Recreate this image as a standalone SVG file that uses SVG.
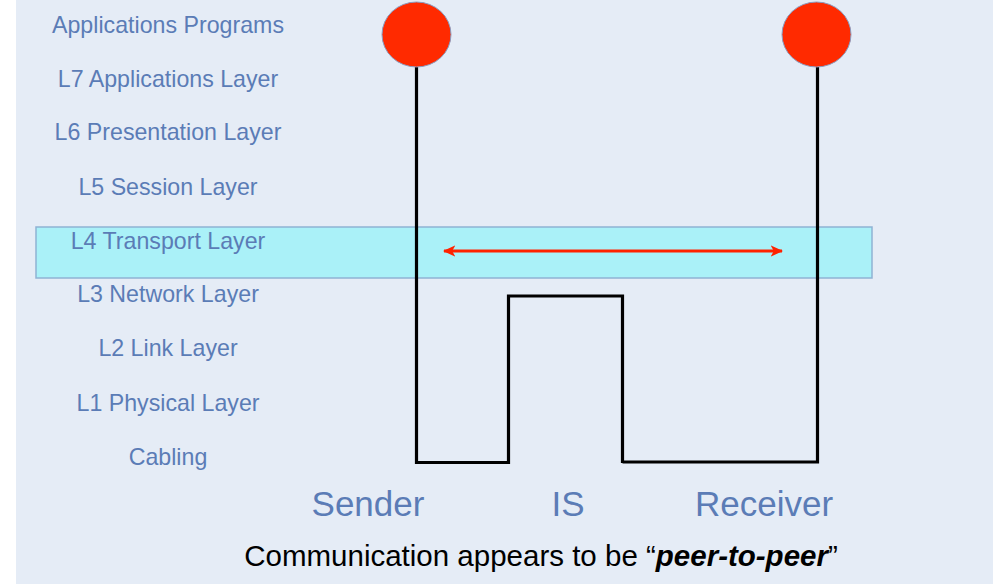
<svg xmlns="http://www.w3.org/2000/svg" width="995" height="584" viewBox="0 0 995 584">
<defs>
<style>
.lbl{font-family:"Liberation Sans",Arial,sans-serif;font-size:23.2px;fill:#5b7cb6;text-anchor:middle}
.big{font-family:"Liberation Sans",Arial,sans-serif;font-size:35px;fill:#5b7cb6;text-anchor:middle}
.cap{font-family:"Liberation Sans",Arial,sans-serif;font-size:29.5px;fill:#000;text-anchor:middle}
.wire{fill:none;stroke:#000;stroke-width:3.2;stroke-linejoin:miter}
.dot{fill:#ff2a00;stroke:#8a9cc0;stroke-width:1}
</style>
<marker id="ah" viewBox="0 0 10 10" refX="9" refY="5" markerWidth="4.5" markerHeight="4.5" orient="auto-start-reverse" markerUnits="strokeWidth">
<path d="M0,0.5 L10,5 L0,9.5 L2.5,5 Z" fill="#ff2200"/>
</marker>
</defs>
<rect x="0" y="0" width="995" height="584" fill="#ffffff"/>
<rect x="16" y="0" width="977" height="584" fill="#e5ecf6"/>

<g id="band-l4">
<rect x="36" y="227" width="836" height="51" fill="#aaf1f8" stroke="#8fb2d4" stroke-width="1.5"/>
</g>

<g id="layers">
<text class="lbl" x="168" y="33">Applications Programs</text>
<text class="lbl" x="168" y="87">L7 Applications Layer</text>
<text class="lbl" x="168" y="140">L6 Presentation Layer</text>
<text class="lbl" x="168" y="195">L5 Session Layer</text>
<text class="lbl" x="168" y="249">L4 Transport Layer</text>
<text class="lbl" x="168" y="302">L3 Network Layer</text>
<text class="lbl" x="168" y="356">L2 Link Layer</text>
<text class="lbl" x="168" y="411">L1 Physical Layer</text>
<text class="lbl" x="168" y="465">Cabling</text>
</g>

<g id="connectors">
<path class="wire" d="M416.5,67 L416.5,462.5 L508.5,462.5 L508.5,296 L622.5,296 L622.5,463 L622.5,462 L817.5,462 L817.5,67"/>
<line x1="444" y1="251" x2="782" y2="251" stroke="#ff2200" stroke-width="2.8" marker-start="url(#ah)" marker-end="url(#ah)"/>
</g>

<g id="sender-node">
<ellipse class="dot" cx="416.5" cy="34.5" rx="34.5" ry="32.5"/>
<text class="big" x="368" y="516">Sender</text>
</g>
<g id="is-node">
<text class="big" x="568" y="516">IS</text>
</g>
<g id="receiver-node">
<ellipse class="dot" cx="816.5" cy="34.5" rx="34.5" ry="32.5"/>
<text class="big" x="764" y="516">Receiver</text>
</g>

<g id="caption">
<text class="cap" x="541" y="566">Communication appears to be “<tspan font-weight="bold" font-style="italic">peer-to-peer</tspan>”</text>
</g>
</svg>
